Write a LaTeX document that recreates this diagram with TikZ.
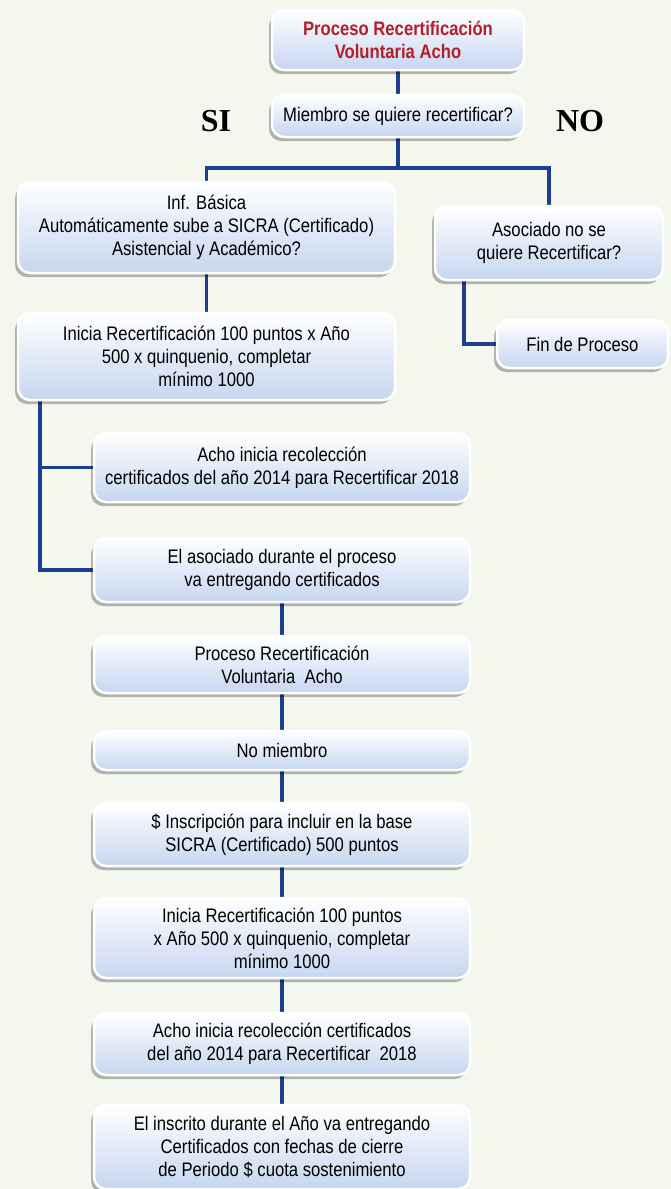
\documentclass[tikz,border=0pt]{standalone}
\usepackage{fontspec}
\setmainfont{Liberation Sans}[FakeStretch=0.85]
\newfontfamily\sinofont{Liberation Serif}
\usetikzlibrary{positioning,shadows,backgrounds,calc}
\definecolor{fondo}{HTML}{F4F7EE}
\definecolor{azulcaja}{HTML}{C6D6F0}
\definecolor{azullinea}{HTML}{1D3F93}
\definecolor{rojotit}{HTML}{B0202A}
\tikzset{
  caja/.style={draw=white, line width=2.5pt, rounded corners=12pt,
    top color=white, bottom color=azulcaja, align=center, inner sep=0pt,
    font=\fontsize{19.6}{23}\selectfont,
    drop shadow={shadow xshift=-3pt, shadow yshift=-4pt, fill=black, opacity=0.28}},
  titulo/.style={caja, text=rojotit, font=\bfseries\fontsize{19.6}{23}\selectfont},
  linea/.style={draw=azullinea, line width=3.5pt},
  sino/.style={font=\sinofont\bfseries\fontsize{32}{32}\selectfont}
}

\begin{document}
\begin{tikzpicture}[x=1pt,y=1pt]
\path[use as bounding box] (0,0) rectangle (671,-1189);

\node[titulo, minimum width=252pt, minimum height=60pt] (tit) at (398,-40)
  {Proceso Recertificación\\Voluntaria Acho};
\node[caja, minimum width=252pt, minimum height=42pt] (miembro) at (398,-116)
  {Miembro se quiere recertificar?};
\node[sino] (si) at (216,-121) {SI};
\node[sino] (no) at (580,-121) {NO};

\node[caja, minimum width=377pt, minimum height=91pt] (infbasica) at (206.5,-227.5)
  {Inf. Básica\\Automáticamente sube a SICRA (Certificado)\\Asistencial y Académico?};
\node[caja, minimum width=228pt, minimum height=74pt] (asociado) at (549,-243)
  {Asociado no se\\quiere Recertificar?};
\node[caja, minimum width=171pt, minimum height=48pt] (fin) at (582.5,-344)
  {Fin de Proceso};
\node[caja, minimum width=377pt, minimum height=87pt] (inicia) at (206.5,-356.5)
  {Inicia Recertificación 100 puntos x Año\\500 x quinquenio, completar\\mínimo 1000};

\node[caja, minimum width=376pt, minimum height=69pt] (recoleccion) at (282,-467.5)
  {Acho inicia recolección\\certificados del año 2014 para Recertificar 2018};
\node[caja, minimum width=376pt, minimum height=64pt] (entrega) at (282,-570)
  {El asociado durante el proceso\\va entregando certificados};
\node[caja, minimum width=376pt, minimum height=57pt] (proceso) at (282,-664.5)
  {Proceso Recertificación\\Voluntaria~ Acho};
\node[caja, minimum width=376pt, minimum height=39pt] (nomiembro) at (282,-750.5)
  {No miembro};
\node[caja, minimum width=376pt, minimum height=63pt] (inscripcion) at (282,-834.5)
  {\$ Inscripción para incluir en la base\\SICRA (Certificado) 500 puntos};
\node[caja, minimum width=376pt, minimum height=80pt] (inicia2) at (282,-938)
  {Inicia Recertificación 100 puntos\\x Año 500 x quinquenio, completar\\mínimo 1000};
\node[caja, minimum width=376pt, minimum height=62pt] (recoleccion2) at (282,-1044)
  {Acho inicia recolección certificados\\del año 2014 para Recertificar~ 2018};
\node[caja, minimum width=376pt, minimum height=84pt] (inscrito) at (282,-1147)
  {El inscrito durante el Año va entregando\\Certificados con fechas de cierre\\de Periodo \$ cuota sostenimiento};

\begin{scope}[on background layer]
\fill[fondo] (0,0) rectangle (671,-1189);
\coordinate (rama) at (396,-168);
\draw[linea] (tit.south) -- (miembro.north);
\draw[linea] (miembro.south) -- (miembro.south |- rama);
\draw[linea] (infbasica.north) |- (rama) -| (asociado.north);
\draw[linea] (infbasica.south) -- (inicia.north);
\draw[linea] ($(asociado.south west)+(30,0)$) |- (fin.west);
\draw[linea] ($(inicia.south west)+(23,0)$) |- (recoleccion.west);
\draw[linea] ($(inicia.south west)+(23,0)$) |- (entrega.west);
\draw[linea] (entrega.south) -- (proceso.north);
\draw[linea] (proceso.south) -- (nomiembro.north);
\draw[linea] (nomiembro.south) -- (inscripcion.north);
\draw[linea] (inscripcion.south) -- (inicia2.north);
\draw[linea] (inicia2.south) -- (recoleccion2.north);
\draw[linea] (recoleccion2.south) -- (inscrito.north);
\end{scope}
\end{tikzpicture}
\end{document}
